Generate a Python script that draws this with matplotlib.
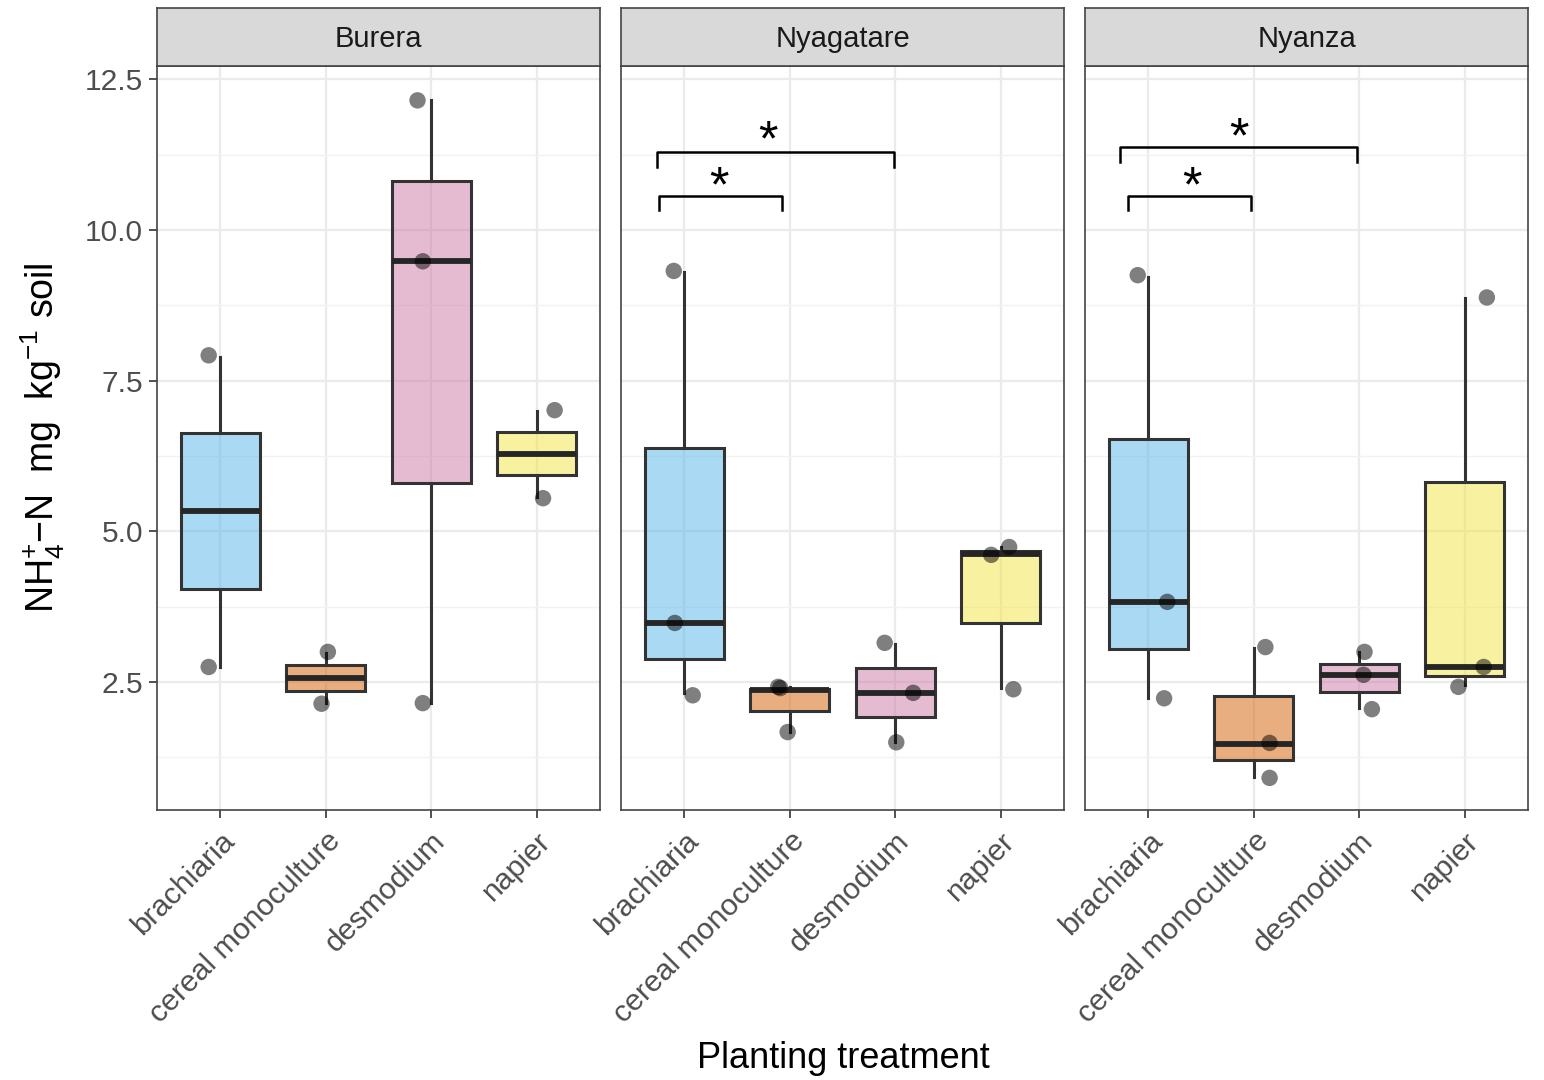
import matplotlib
matplotlib.use('Agg')
import matplotlib.pyplot as plt
from matplotlib.colors import to_rgba

plt.rcParams['font.family'] = ['Liberation Sans', 'DejaVu Sans']
plt.rcParams['mathtext.fontset'] = 'custom'
plt.rcParams['mathtext.rm'] = 'Liberation Sans'
plt.rcParams['mathtext.it'] = 'Liberation Sans:italic'
plt.rcParams['mathtext.bf'] = 'Liberation Sans:bold'

sites = ['Burera', 'Nyagatare', 'Nyanza']
treatments = ['brachiaria', 'cereal monoculture', 'desmodium', 'napier']
fills = ['#56B4E9', '#D55E00', '#CC79A7', '#F0E442']

# box summaries per site, one row per treatment: low whisker, Q1, median, Q3, high whisker
burera_box = [
    [2.75, 4.04, 5.34, 6.63, 7.89],
    [2.15, 2.35, 2.57, 2.78, 2.98],
    [2.15, 5.80, 9.48, 10.81, 12.15],
    [5.57, 5.93, 6.28, 6.65, 7.00],
]
nyagatare_box = [
    [2.32, 2.88, 3.48, 6.38, 9.30],
    [1.67, 2.02, 2.37, 2.39, 2.42],
    [1.50, 1.92, 2.32, 2.73, 3.13],
    [2.40, 3.48, 4.62, 4.67, 4.74],
]
nyanza_box = [
    [2.23, 3.05, 3.83, 6.53, 9.22],
    [0.93, 1.21, 1.47, 2.27, 3.06],
    [2.07, 2.33, 2.61, 2.80, 3.00],
    [2.45, 2.60, 2.75, 5.82, 8.87],
]

# jittered observations: value and horizontal jitter, per treatment
burera_pts = [
    [7.92, 2.75], [3.00, 2.14], [12.15, 9.48, 2.15], [7.01, 5.55],
]
burera_jit = [
    [-0.11, -0.11], [0.02, -0.04], [-0.13, -0.08, -0.08], [0.17, 0.06],
]
nyagatare_pts = [
    [9.32, 3.48, 2.28], [2.42, 2.40, 1.67], [3.15, 2.32, 1.50], [4.61, 4.74, 2.38],
]
nyagatare_jit = [
    [-0.10, -0.09, 0.08], [-0.11, -0.09, -0.02], [-0.10, 0.17, 0.01], [-0.09, 0.08, 0.12],
]
nyanza_pts = [
    [9.25, 3.83, 2.23], [3.08, 1.49, 0.91], [3.00, 2.62, 2.05], [8.88, 2.75, 2.42],
]
nyanza_jit = [
    [-0.10, 0.18, 0.15], [0.11, 0.15, 0.15], [0.05, 0.04, 0.12], [0.21, 0.18, -0.06],
]

# significance brackets: site, left x, right x, bar height, leg end, star x, star y
brackets = [
    ('Nyagatare', 0.76, 1.93, 10.56, 10.33, 1.33, 10.86),
    ('Nyagatare', 0.74, 2.99, 11.29, 11.04, 1.79, 11.62),
    ('Nyanza', 0.81, 1.97, 10.56, 10.33, 1.41, 10.86),
    ('Nyanza', 0.73, 2.98, 11.37, 11.12, 1.86, 11.67),
]

box_data = [burera_box, nyagatare_box, nyanza_box]
pt_data = [burera_pts, nyagatare_pts, nyanza_pts]
jit_data = [burera_jit, nyagatare_jit, nyanza_jit]

W, H = 1544, 1080
fig = plt.figure(figsize=(W / 100, H / 100), dpi=100)

panel_left = [157, 621, 1085]
panel_w = 443
top, bottom, strip_top = 66, 810, 8
edge = '#333333'

for i, site in enumerate(sites):
    x0 = panel_left[i]
    ax = fig.add_axes([x0 / W, 1 - bottom / H, panel_w / W, (bottom - top) / H])
    strip = fig.add_axes([x0 / W, 1 - top / H, panel_w / W, (top - strip_top) / H])

    stats = []
    for row in box_data[i]:
        lo, q1, med, q3, hi = row
        stats.append(dict(whislo=lo, q1=q1, med=med, q3=q3, whishi=hi))
    b = ax.bxp(stats, positions=range(1, 5), widths=0.75, patch_artist=True,
               showcaps=False, showfliers=False, manage_ticks=False,
               boxprops=dict(edgecolor=edge, linewidth=2.2),
               whiskerprops=dict(color=edge, linewidth=2.2),
               medianprops=dict(color='#262626', linewidth=4.2, solid_capstyle='butt'))
    for patch, c in zip(b['boxes'], fills):
        patch.set_facecolor(to_rgba(c, 0.5))
        patch.set_zorder(2)
    for w in b['whiskers']:
        w.set_zorder(1.9)

    ax.set_xlim(0.4, 4.6)
    ax.set_ylim(0.377, 12.72)
    ax.set_yticks([2.5, 5.0, 7.5, 10.0, 12.5])
    ax.set_yticks([1.25, 3.75, 6.25, 8.75, 11.25], minor=True)
    ax.set_xticks(range(1, 5))
    ax.set_xticklabels(treatments, rotation=45, ha='right', rotation_mode='anchor')
    ax.grid(True, which='major', color='#ebebeb', lw=1.6, zorder=0)
    ax.grid(True, which='minor', axis='y', color='#f2f2f2', lw=1.0, zorder=0)
    ax.set_axisbelow(True)
    for s in ax.spines.values():
        s.set_color('#444444')
        s.set_linewidth(1.2)
    ax.tick_params(axis='both', which='major', length=6, width=1.2, color='#333333',
                   labelsize=21.5, labelcolor='#4d4d4d', pad=4)
    ax.tick_params(axis='x', labelsize=21.8, pad=6)
    ax.tick_params(axis='both', which='minor', length=0)

    if i == 0:
        ax.set_yticklabels(['2.5', '5.0', '7.5', '10.0', '12.5'])
        ax.set_ylabel(r'NH$_4^{+}$$-$N  mg  kg$^{-1}$ soil', fontsize=27, labelpad=13)
    else:
        ax.tick_params(axis='y', labelleft=False, length=0)

    for k in range(4):
        xs = [k + 1 + j for j in jit_data[i][k]]
        ax.scatter(xs, pt_data[i][k], s=140, color='black', alpha=0.5,
                   edgecolors='none', zorder=3)

    for br in brackets:
        if br[0] != site:
            continue
        _, xa, xb, yt, yl, sx, sy = br
        ax.plot([xa, xa, xb, xb], [yl, yt, yt, yl], color='black', lw=1.8,
                solid_joinstyle='round', zorder=4)
        ax.text(sx, sy - 0.17, '*', fontsize=36, ha='center', va='center', color='black',
                zorder=4)

    strip.set_xticks([])
    strip.set_yticks([])
    strip.set_facecolor('#d9d9d9')
    for s in strip.spines.values():
        s.set_color('#444444')
        s.set_linewidth(1.2)
    strip.text(0.5, 0.46, site, ha='center', va='center', fontsize=21, color='#1a1a1a',
               transform=strip.transAxes)

fig.text(843 / W, 1 - 1058 / H, 'Planting treatment', ha='center', va='center',
         fontsize=26, color='black')

fig.savefig('out.png', dpi=100, facecolor='white')
